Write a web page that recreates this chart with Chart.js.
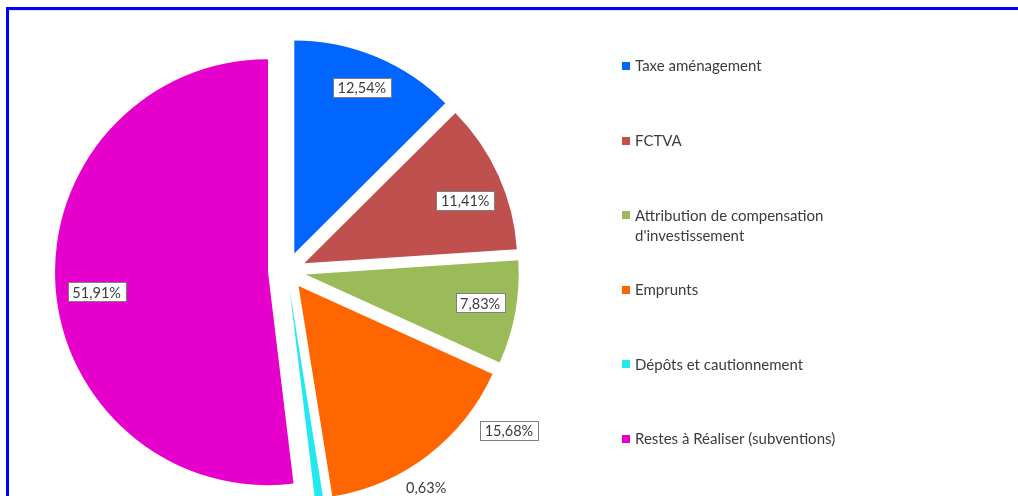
<!DOCTYPE html>
<html><head><meta charset="utf-8">
<script src="https://cdn.jsdelivr.net/npm/chart.js@4.4.1/dist/chart.umd.min.js"></script>
<style>
html,body{margin:0;padding:0;background:#fff;overflow:hidden;}
#wrap{position:relative;width:1018px;height:496px;overflow:hidden;}
canvas{position:absolute;left:0;top:0;}
#frame{position:absolute;left:6px;top:7px;width:1020px;height:500px;border-top:3px solid #0000ff;border-left:3px solid #0000ff;box-sizing:border-box;}
#inner{position:absolute;left:9px;top:10px;width:871px;height:1px;background:#e6e6f2;}
</style></head><body>
<div id="wrap"><canvas id="c" width="1018" height="496"></canvas><div id="frame"></div><div id="inner"></div></div>
<script>
const categories = ['Taxe aménagement', 'FCTVA', ["Attribution de compensation", "d'investissement"], 'Emprunts', 'Dépôts et cautionnement', 'Restes à Réaliser (subventions)'];
const values = [12.54, 11.41, 7.83, 15.68, 0.63, 51.91];
const colors = ['#0066ff', '#c0504d', '#9bbb59', '#ff6600', '#22e8f0', '#e600cc'];

// label placement (angle clockwise from 12 o'clock, distance as fraction of radius)
const labelAngle = [22.2, 68.8, 99.3, 124.4, 145.3, 263.4];
const labelDist = [0.84, 0.81, 0.83, 1.197, 1.126, 0.81];
const labelBoxed = [true, true, true, true, false, true];
const EXPLODE = 19;

const fmt = v => v.toFixed(2).replace('.', ',') + '%';

const explodePlugin = {
  id: 'explode',
  afterDatasetsUpdate(chart) {
    chart.getDatasetMeta(0).data.forEach(arc => {
      const mid = (arc.startAngle + arc.endAngle) / 2;
      arc.x += Math.cos(mid) * EXPLODE;
      arc.y += Math.sin(mid) * EXPLODE;
    });
  }
};

const labelPlugin = {
  id: 'vlabels',
  afterDatasetsDraw(chart) {
    const ctx = chart.ctx;
    const ds = chart.data.datasets[0];
    ctx.save();
    ctx.font = '14.5px Lato';
    ctx.textAlign = 'center';
    ctx.textBaseline = 'middle';
    chart.getDatasetMeta(0).data.forEach((arc, i) => {
      const a = labelAngle[i] * Math.PI / 180;
      const r = labelDist[i] * arc.outerRadius;
      const x = arc.x + Math.sin(a) * r;
      const y = arc.y - Math.cos(a) * r;
      const t = fmt(ds.data[i]);
      const w = ctx.measureText(t).width + 9;
      const h = 19;
      if (labelBoxed[i]) {
        ctx.fillStyle = '#ffffff';
        ctx.fillRect(Math.round(x - w / 2) + 0.5, Math.round(y - h / 2) + 0.5, Math.round(w), h);
        ctx.strokeStyle = '#7f7f7f';
        ctx.lineWidth = 1;
        ctx.strokeRect(Math.round(x - w / 2) + 0.5, Math.round(y - h / 2) + 0.5, Math.round(w), h);
      }
      ctx.fillStyle = '#3c3c3c';
      ctx.fillText(t, x, y + 1);
    });
    ctx.restore();
  }
};

const legendPlugin = {
  id: 'sideLegend',
  afterDraw(chart) {
    const ctx = chart.ctx;
    const labels = chart.data.labels;
    const bg = chart.data.datasets[0].backgroundColor;
    ctx.save();
    ctx.font = '15px Lato';
    ctx.textAlign = 'left';
    ctx.textBaseline = 'middle';
    labels.forEach((lab, i) => {
      const y = 66 + i * 74.6;
      ctx.fillStyle = bg[i];
      ctx.fillRect(622, Math.round(y) - 4, 8, 8);
      ctx.fillStyle = '#3c3c3c';
      const lines = Array.isArray(lab) ? lab : [lab];
      lines.forEach((ln, k) => ctx.fillText(ln, 635, y + k * 20 + 0.5));
    });
    ctx.restore();
  }
};

new Chart(document.getElementById('c'), {
  type: 'pie',
  data: {
    labels: categories,
    datasets: [{ data: values, backgroundColor: colors, borderWidth: 0, clip: false }]
  },
  options: {
    responsive: false,
    animation: false,
    radius: 213,
    events: [],
    layout: { padding: { left: 0, right: 444, top: 46, bottom: 0 } },
    plugins: { legend: { display: false }, tooltip: { enabled: false } }
  },
  plugins: [explodePlugin, labelPlugin, legendPlugin]
});
</script>
</body></html>
